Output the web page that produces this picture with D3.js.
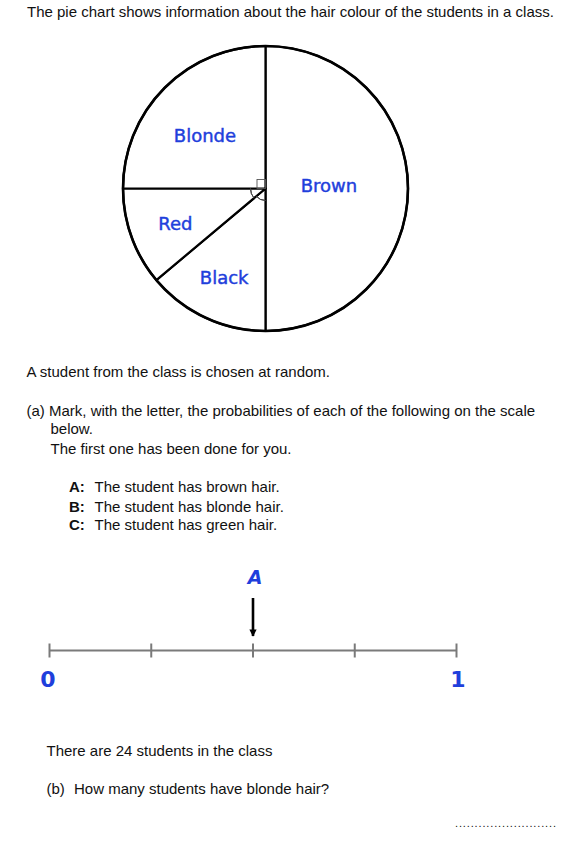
<!DOCTYPE html>
<html>
<head>
<meta charset="utf-8">
<script src="https://cdn.jsdelivr.net/npm/d3@7"></script>
<style>
  html, body { margin: 0; padding: 0; background: #fff; }
  svg { display: block; }
  .q { font-family: "Liberation Sans", Arial, Helvetica, sans-serif; font-size: 15px; fill: #111; }
  .lbl { font-family: "Comic Sans MS", "DejaVu Sans", sans-serif; font-size: 18px; fill: #1f3fdc; stroke: #1f3fdc; stroke-width: 0.45px; }
</style>
</head>
<body>
<script>
// ---- data ----
const categories = ["Brown", "Black", "Red", "Blonde"];
const angles = [180, 50, 40, 90];            // degrees of each sector
const totalStudents = 24;
const scaleTicks = [0, 0.25, 0.5, 0.75, 1];
const scaleTickLabels = ["0", "", "", "", "1"];
const markerLetters = ["A"];
const markerCategory = ["Brown"];

const W = 581, H = 847;
const svg = d3.select("body").append("svg").attr("width", W).attr("height", H);

// ---- text ----
function txt(x, y, s, cls, extra) {
  const t = svg.append("text").attr("x", x).attr("y", y).attr("class", cls || "q").text(s);
  if (extra) extra(t);
  return t;
}
txt(27, 16.7, "The pie chart shows information about the hair colour of the students in a class.");
txt(26.5, 377.3, "A student from the class is chosen at random.");
txt(26.5, 416, "(a) Mark, with the letter, the probabilities of each of the following on the scale");
txt(50.5, 434, "below.");
txt(50.5, 454, "The first one has been done for you.");
const items = [["A:", "The student has brown hair."], ["B:", "The student has blonde hair."], ["C:", "The student has green hair."]];
const itemY = [492.3, 511.5, 530.3];
items.forEach((it, i) => {
  txt(69, itemY[i], it[0], "q", t => t.style("font-weight", "bold"));
  txt(94.5, itemY[i], it[1]);
});
txt(46.5, 755.7, "There are " + totalStudents + " students in the class");
txt(46.5, 793.5, "(b)");
txt(74, 793.5, "How many students have blonde hair?");
txt(455, 827, "..........................", "q", t => t.style("font-size", "11px").style("letter-spacing", "0.86px"));

// ---- pie ----
const cx = 265.5, cy = 188.5, R = 142.5;
const pie = d3.pie().sort(null).value(d => d.v).startAngle(0).endAngle(2 * Math.PI);
const data = pie(categories.map((c, i) => ({ c, v: angles[i] })));
const arc = d3.arc().innerRadius(0).outerRadius(R);
const g = svg.append("g").attr("transform", `translate(${cx},${cy})`);
g.selectAll("path.slice").data(data).join("path")
  .attr("class", "slice")
  .attr("d", arc)
  .attr("fill", "#fff")
  .attr("stroke", "#000")
  .attr("stroke-width", 2.2)
  .attr("stroke-linejoin", "round");
g.append("circle").attr("r", R).attr("fill", "none").attr("stroke", "#000").attr("stroke-width", 2.6);

// angle marks
const byCat = {}; data.forEach(d => byCat[d.data.c] = d);
const markArc = r => d3.arc().innerRadius(r).outerRadius(r);
g.append("path").attr("d", markArc(15)({ startAngle: byCat.Red.startAngle, endAngle: byCat.Red.endAngle }))
  .attr("fill", "none").attr("stroke", "#444").attr("stroke-width", 1);
g.append("path").attr("d", markArc(12)({ startAngle: byCat.Black.startAngle, endAngle: byCat.Black.endAngle }))
  .attr("fill", "none").attr("stroke", "#444").attr("stroke-width", 1);
// right angle square for blonde
g.append("rect").attr("x", -8.5).attr("y", -9).attr("width", 8.5).attr("height", 9)
  .attr("fill", "none").attr("stroke", "#555").attr("stroke-width", 0.9);

// labels
const labelArc = d3.arc().innerRadius(80).outerRadius(80);
const nudge = { Brown: [-16.5, -3.5], Black: [-7.5, 16.5], Red: [-15, 8], Blonde: [-4, 4] };
g.selectAll("text.lbl").data(data).join("text")
  .attr("class", "lbl")
  .attr("text-anchor", "middle")
  .attr("dominant-baseline", "central")
  .attr("x", d => labelArc.centroid(d)[0] + nudge[d.data.c][0])
  .attr("y", d => labelArc.centroid(d)[1] + nudge[d.data.c][1])
  .text(d => d.data.c);

// ---- probability scale ----
const x = d3.scaleLinear().domain([0, 1]).range([49.5, 456.5]);
const lineY = 650.5;
svg.append("line").attr("x1", x(0)).attr("x2", x(1)).attr("y1", lineY).attr("y2", lineY)
  .attr("stroke", "#7a7a7a").attr("stroke-width", 2);
svg.selectAll("line.tick").data(scaleTicks).join("line")
  .attr("class", "tick")
  .attr("x1", d => x(d)).attr("x2", d => x(d))
  .attr("y1", lineY - 7).attr("y2", lineY + 7)
  .attr("stroke", "#7a7a7a").attr("stroke-width", 2);
svg.selectAll("text.tl").data(scaleTicks).join("text")
  .attr("class", "tl")
  .attr("x", d => x(d) + (d === 1 ? 1.5 : -1.5)).attr("y", 687.3)
  .attr("text-anchor", "middle")
  .style("font-family", "'Comic Sans MS', 'DejaVu Sans', sans-serif")
  .style("font-size", "22px").style("font-weight", "bold").style("fill", "#1f3fdc")
  .text((d, i) => scaleTickLabels[i]);

// markers
const total = d3.sum(angles);
const markers = markerLetters.map((L, i) => ({ L, p: angles[categories.indexOf(markerCategory[i])] / total }));
svg.append("defs").append("marker").attr("id", "ah").attr("viewBox", "0 0 10 10")
  .attr("refX", 9).attr("refY", 5).attr("markerWidth", 2.8).attr("markerHeight", 2.8)
  .attr("orient", "auto").attr("markerUnits", "strokeWidth")
  .append("path").attr("d", "M0,0 L10,5 L0,10 Z").attr("fill", "#000");
const mg = svg.selectAll("g.mk").data(markers).join("g").attr("class", "mk");
mg.append("line").attr("x1", d => x(d.p)).attr("x2", d => x(d.p))
  .attr("y1", 598).attr("y2", 636).attr("stroke", "#000").attr("stroke-width", 2.6)
  .attr("marker-end", "url(#ah)");
mg.append("text").attr("x", d => x(d.p) + 2).attr("y", 583.5).attr("text-anchor", "middle")
  .style("font-family", "'Comic Sans MS', 'DejaVu Sans', sans-serif")
  .style("font-size", "19px").style("font-weight", "bold").style("font-style", "italic").style("fill", "#1f3fdc")
  .text(d => d.L);
</script>
</body>
</html>
